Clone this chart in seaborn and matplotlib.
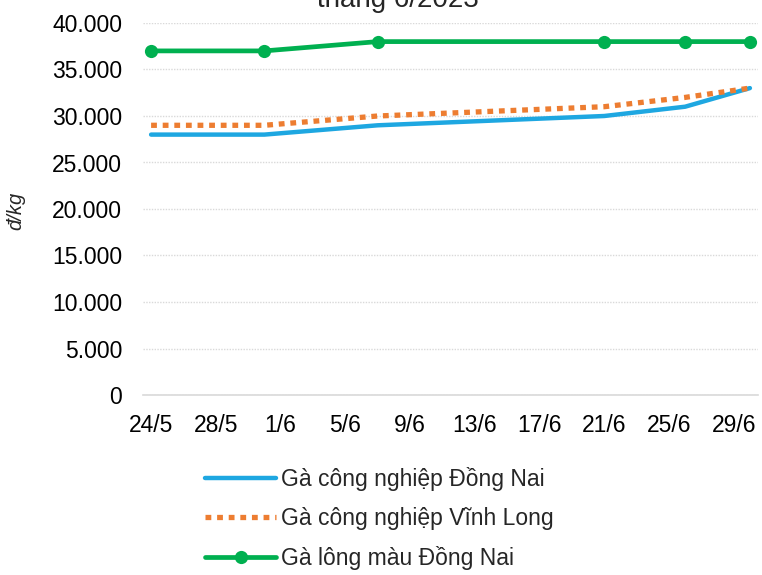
import pandas as pd
import matplotlib.pyplot as plt
import matplotlib.ticker as mticker
import matplotlib.dates as mdates
import seaborn as sns

# ---- data ----
dates = ['2023-05-24', '2023-05-31', '2023-06-07', '2023-06-21', '2023-06-26', '2023-06-30']
cn_dong_nai = [28000, 28000, 29000, 30000, 31000, 33000]
cn_vinh_long = [29000, 29000, 30000, 31000, 32000, 33000]
lm_dong_nai = [37000, 37000, 38000, 38000, 38000, 38000]

series_names = ['Gà công nghiệp Đồng Nai',
                'Gà công nghiệp Vĩnh Long',
                'Gà lông màu Đồng Nai']
tick_dates = ['2023-05-24', '2023-05-28', '2023-06-01', '2023-06-05', '2023-06-09',
              '2023-06-13', '2023-06-17', '2023-06-21', '2023-06-25', '2023-06-29']
y_ticks = [0, 5000, 10000, 15000, 20000, 25000, 30000, 35000, 40000]

sns.set_theme(style='white')
plt.rcParams['font.family'] = ['Liberation Sans', 'DejaVu Sans']

df = pd.DataFrame({'date': pd.to_datetime(dates),
                   series_names[0]: cn_dong_nai,
                   series_names[1]: cn_vinh_long,
                   series_names[2]: lm_dong_nai})

fig = plt.figure(figsize=(7.62, 5.75), dpi=100)
ax = fig.add_axes([143/762, 1 - 395/575, (758 - 143)/762, (395 - 23)/575])

sns.lineplot(data=df, x='date', y=series_names[0], ax=ax, color='#1ea7e1',
             linewidth=3.2, label=series_names[0])
sns.lineplot(data=df, x='date', y=series_names[1], ax=ax, color='#ed7d31',
             linewidth=3.8, dashes=False, label=series_names[1])
ax.lines[-1].set_linestyle((0, (1.1, 1.1)))
ax.lines[-1].set_dash_capstyle('butt')
sns.lineplot(data=df, x='date', y=series_names[2], ax=ax, color='#00b050',
             linewidth=3.4, marker='o', markersize=9.5, markeredgewidth=0,
             label=series_names[2])

# axes
d0 = pd.Timestamp(dates[0]) - pd.Timedelta(hours=12)
d1 = pd.Timestamp(dates[-1]) + pd.Timedelta(hours=12)
ax.set_xlim(d0, d1)
ax.set_ylim(0, 40000)
ax.set_xticks(pd.to_datetime(tick_dates))
ax.xaxis.set_major_formatter(mticker.FuncFormatter(
    lambda v, p: '%d/%d' % (mdates.num2date(v).day, mdates.num2date(v).month)))
ax.set_yticks(y_ticks)
ax.yaxis.set_major_formatter(mticker.FuncFormatter(
    lambda v, p: '{:,.0f}'.format(v).replace(',', '.')))
ax.tick_params(axis='both', labelsize=16.5, length=0, colors='black')
ax.tick_params(axis='x', pad=14)
ax.tick_params(axis='y', pad=15)
ax.grid(axis='y', color='#d9d9d9', linestyle=(0, (1, 1)), linewidth=1)
ax.set_xlabel('')
ax.set_ylabel('')
sns.despine(ax=ax, left=True)
ax.spines['bottom'].set_color('#d9d9d9')
ax.spines['bottom'].set_linewidth(1.2)

fig.text(16/762, 1 - 211/575, 'đ/kg', rotation=90, ha='center', va='center',
         fontsize=14.5, style='italic')
fig.text(398/762, 1 - 7/575, 'tháng 6/2023', ha='center', va='baseline', fontsize=20)

leg = ax.legend(loc='upper left', bbox_to_anchor=(205/762, 1 - 467/575),
                bbox_transform=fig.transFigure, frameon=False, fontsize=16.5,
                handlelength=3.1, handletextpad=0.2, labelspacing=0.7,
                borderpad=0, borderaxespad=0)

fig.savefig('out.png', dpi=100)
